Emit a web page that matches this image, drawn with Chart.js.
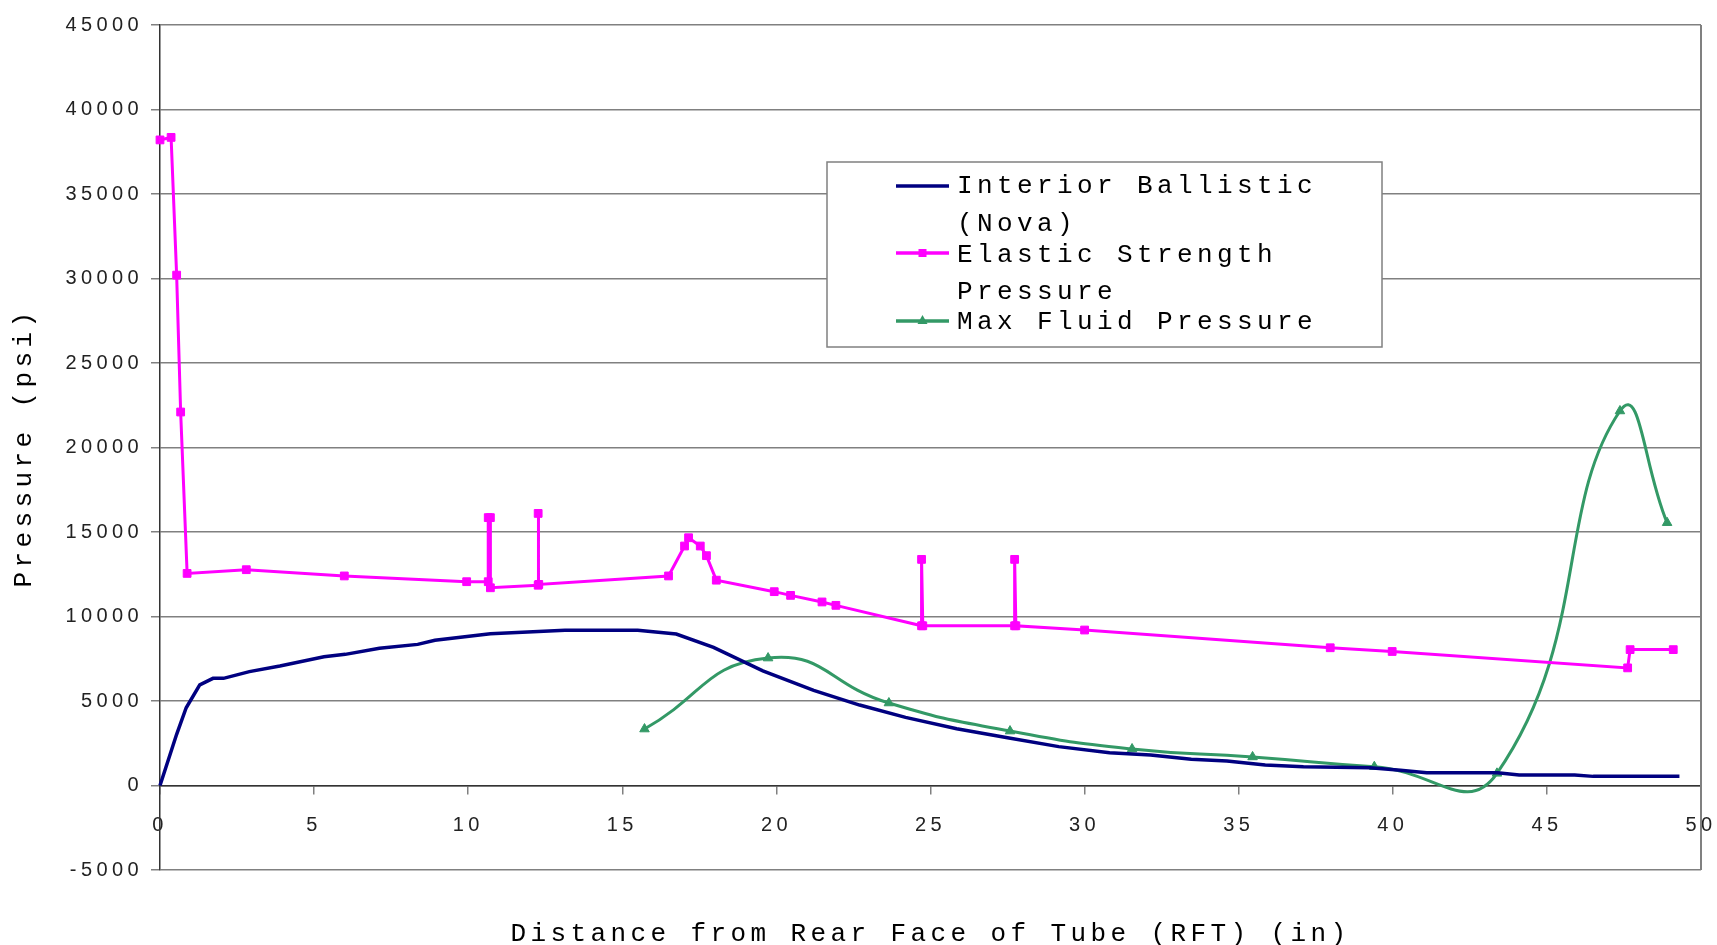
<!DOCTYPE html>
<html>
<head>
<meta charset="utf-8">
<title>Pressure vs Distance from RFT</title>
<script src="https://cdn.jsdelivr.net/npm/chart.js@4/dist/chart.umd.min.js"></script>
<style>
  html, body { margin: 0; padding: 0; background: #fff; }
  #wrap { position: relative; width: 1717px; height: 945px; }
</style>
</head>
<body>
<div id="wrap"><canvas id="pressureChart"></canvas></div>
<script>
// ─── Data ────────────────────────────────────────────────────
const ballisticX = [0, 0.54, 0.85, 1.29, 1.72, 2.06, 2.9, 3.89, 5.32, 6.01, 7.12, 8.36, 8.92,
  10.72, 13.14, 15.5, 16.75, 17.96, 19.56, 21.21, 22.7, 24.19, 25.85, 27.5, 29.16, 30.81,
  32.14, 33.46, 34.62, 35.86, 37.1, 39.26, 40.25, 41.1, 43.4, 44.1, 45.9, 46.5, 49.3];
const ballisticY = [0, 3030, 4600, 5950, 6340, 6340, 6740, 7070, 7620, 7760, 8120, 8350, 8590,
  8980, 9180, 9180, 8960, 8170, 6780, 5630, 4760, 4030, 3360, 2830, 2300, 1940,
  1800, 1550, 1450, 1210, 1110, 1050, 900, 760, 760, 620, 620, 540, 540];

const elasticX = [0, 0.36, 0.54, 0.67, 0.88, 2.8, 5.98, 9.95, 10.65, 10.65, 10.72, 10.72,
  12.27, 12.27, 12.29, 16.5, 17.02, 17.15, 17.53, 17.73, 18.05, 19.93, 20.46, 21.48, 21.93,
  24.71, 24.71, 24.75, 27.73, 27.73, 27.77, 30.0, 37.97, 39.98, 47.62, 47.7, 49.1];
const elasticY = [38200, 38350, 30200, 22100, 12550, 12770, 12400, 12060, 12060, 15850, 15850, 11700,
  11850, 16100, 11900, 12400, 14170, 14660, 14170, 13600, 12150, 11470, 11250, 10860, 10660,
  9450, 13380, 9450, 9450, 13380, 9450, 9200, 8150, 7930, 6960, 8040, 8040];

const fluidX = [15.72, 19.73, 23.65, 27.58, 31.54, 35.45, 39.4, 43.38, 47.37, 48.9];
const fluidY = [3340, 7540, 4880, 3220, 2160, 1690, 1110, 720, 22160, 15550];

const xTickValues = [0, 5, 10, 15, 20, 25, 30, 35, 40, 45, 50];
const yTickValues = [-5000, 0, 5000, 10000, 15000, 20000, 25000, 30000, 35000, 40000, 45000];

const toPoints = (xs, ys) => xs.map((x, i) => ({ x, y: ys[i] }));

// ─── Plugins ────────────────────────────────────────────────
// spaced-out lettering of the original
const SPACING = "4.4px";
const spacingPlugin = {
  id: "letterSpacing",
  beforeUpdate(chart) { chart.ctx.letterSpacing = SPACING; },
  beforeDraw(chart) { chart.ctx.letterSpacing = SPACING; },
};

// right edge of the plot frame
const framePlugin = {
  id: "frame",
  beforeDatasetsDraw(chart) {
    const { ctx, chartArea: a } = chart;
    ctx.save();
    ctx.strokeStyle = "#808080";
    ctx.lineWidth = 2;
    ctx.beginPath();
    ctx.moveTo(a.right, a.top);
    ctx.lineTo(a.right, a.bottom);
    ctx.stroke();
    ctx.restore();
  },
};

// boxed legend sitting inside the plot
const legendEntries = [
  { lines: [["Interior Ballistic", 193], ["(Nova)", 231]], sampleY: 186, marker: null },
  { lines: [["Elastic Strength", 262], ["Pressure", 299]], sampleY: 253, marker: "rect" },
  { lines: [["Max Fluid Pressure", 329]], sampleY: 321, marker: "triangle" },
];

const legendPlugin = {
  id: "boxLegend",
  afterDraw(chart) {
    const ctx = chart.ctx;
    ctx.save();
    ctx.fillStyle = "#fff";
    ctx.strokeStyle = "#808080";
    ctx.lineWidth = 1.5;
    ctx.fillRect(827, 162, 555, 185);
    ctx.strokeRect(827, 162, 555, 185);

    legendEntries.forEach((entry, i) => {
      const ds = chart.data.datasets[i];
      ctx.strokeStyle = ds.borderColor;
      ctx.fillStyle = ds.borderColor;
      ctx.lineWidth = 3.5;
      ctx.beginPath();
      ctx.moveTo(896, entry.sampleY);
      ctx.lineTo(949, entry.sampleY);
      ctx.stroke();
      if (entry.marker === "rect") {
        ctx.fillRect(918.5, entry.sampleY - 4, 8, 8);
      } else if (entry.marker === "triangle") {
        ctx.beginPath();
        ctx.moveTo(922.5, entry.sampleY - 6);
        ctx.lineTo(927.5, entry.sampleY + 3);
        ctx.lineTo(917.5, entry.sampleY + 3);
        ctx.closePath();
        ctx.fill();
      }
      ctx.fillStyle = "#000";
      ctx.font = "26px 'Liberation Mono', monospace";
      ctx.textAlign = "left";
      ctx.textBaseline = "alphabetic";
      for (const [text, y] of entry.lines) ctx.fillText(text, 957, y);
    });
    ctx.restore();
  },
};

// ─── Chart ──────────────────────────────────────────────────
const tickFont = { family: "'Liberation Sans', Arial, sans-serif", size: 20 };
const titleFont = { family: "'Liberation Mono', 'Courier New', monospace", size: 26 };

new Chart(document.getElementById("pressureChart"), {
  type: "scatter",
  data: {
    datasets: [
      {
        label: "Interior Ballistic (Nova)",
        data: toPoints(ballisticX, ballisticY),
        showLine: true,
        borderColor: "#000080",
        borderWidth: 3.5,
        pointRadius: 0,
        tension: 0,
        clip: false,
      },
      {
        label: "Elastic Strength Pressure",
        data: toPoints(elasticX, elasticY),
        showLine: true,
        borderColor: "#ff00ff",
        backgroundColor: "#ff00ff",
        borderWidth: 3,
        pointStyle: "rect",
        pointRadius: 5.5,
        pointBorderWidth: 1,
        tension: 0,
        clip: false,
      },
      {
        label: "Max Fluid Pressure",
        data: toPoints(fluidX, fluidY),
        showLine: true,
        borderColor: "#339966",
        backgroundColor: "#339966",
        borderWidth: 3,
        pointStyle: "triangle",
        pointRadius: 5.5,
        pointBorderWidth: 1,
        tension: 0.5,
        clip: false,
      },
    ],
  },
  options: {
    responsive: true,
    maintainAspectRatio: false,
    animation: false,
    layout: { padding: { left: 0, right: 16, top: 25, bottom: 75 } },
    plugins: {
      legend: { display: false },
      tooltip: { enabled: false },
    },
    scales: {
      x: {
        type: "linear",
        position: { y: 0 },
        min: 0,
        max: 50,
        afterBuildTicks: s => { s.ticks = xTickValues.map(v => ({ value: v })); },
        afterFit: s => { s.paddingLeft = 0; s.paddingRight = 0; },
        ticks: { font: tickFont, color: "#222", padding: 20, maxRotation: 0, autoSkip: false },
        grid: { drawOnChartArea: false, drawTicks: true, tickLength: 8, color: "#808080", lineWidth: 1.5 },
        border: { color: "#333", width: 1.5 },
        title: {
          display: true,
          text: "Distance from Rear Face of Tube (RFT) (in)",
          font: titleFont,
          color: "#000",
          padding: { top: 61, bottom: 0 },
        },
      },
      y: {
        type: "linear",
        min: -5000,
        max: 45000,
        afterBuildTicks: s => { s.ticks = yTickValues.map(v => ({ value: v })); },
        afterFit: s => { s.width = 160; },
        ticks: { font: tickFont, color: "#222", padding: 8, callback: v => String(v) },
        grid: { color: "#808080", lineWidth: 1.5, tickLength: 9, tickColor: "#808080" },
        border: { color: "#333", width: 1.5 },
        title: {
          display: true,
          text: "Pressure (psi)",
          font: titleFont,
          color: "#000",
          padding: { top: 9, bottom: 0 },
        },
      },
    },
  },
  plugins: [spacingPlugin, framePlugin, legendPlugin],
});
</script>
</body>
</html>
